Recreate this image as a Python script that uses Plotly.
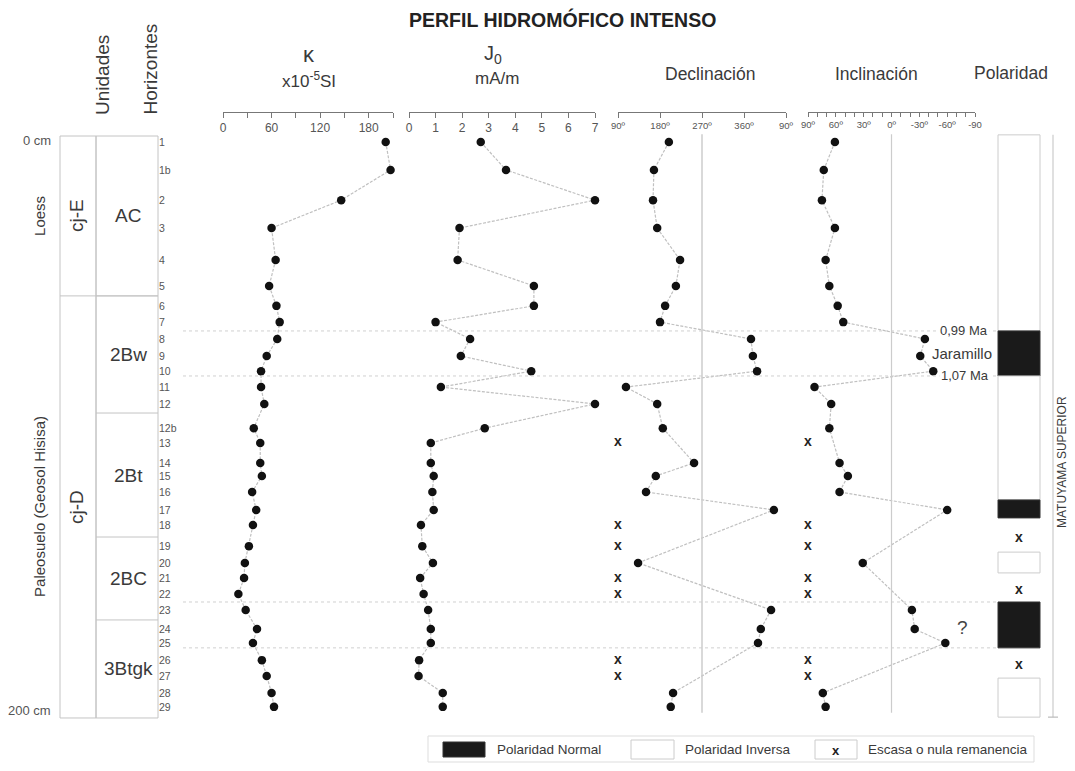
import plotly.graph_objects as go

# ---------------- DATA ----------------
muestras = ['1', '1b', '2', '3', '4', '5', '6', '7', '8', '9', '10', '11', '12', '12b',
            '13', '14', '15', '16', '17', '18', '19', '20', '21', '22', '23', '24', '25',
            '26', '27', '28', '29']
profundidad_cm = [0.7, 10.5, 21.1, 30.9, 42.1, 51.2, 58.2, 63.9, 69.8, 75.8, 81.1, 86.7,
                  92.6, 101.1, 106.3, 113.3, 117.9, 123.5, 129.8, 135.1, 142.5, 148.4,
                  153.7, 159.3, 164.9, 171.6, 176.5, 182.5, 188.1, 194.0, 198.9]
kappa = [201, 207, 146, 60, 65, 57, 66, 70, 67, 54, 47, 47, 51, 38,
         46, 46, 48, 36, 41, 37, 32, 27, 26, 19, 28, 42, 37, 48, 54, 60, 63]
j0 = [2.7, 3.65, 7.0, 1.9, 1.83, 4.7, 4.7, 1.0, 2.3, 1.95, 4.6, 1.2, 7.0, 2.85,
      0.82, 0.82, 0.93, 0.88, 0.93, 0.45, 0.5, 0.9, 0.42, 0.55, 0.72, 0.82, 0.82,
      0.38, 0.36, 1.27, 1.27]
# None = escasa o nula remanencia
declinacion = [199, 167, 165, 174, 223, 214, 191, 180, 15, 19, 28, 107, 174, 186,
               None, 253, 171, 150, 64, None, None, 133, None, None, 58, 36, 30,
               None, None, 208, 203]
inclinacion = [61, 73, 75, 61, 71, 67, 58, 52, -36, -31, -45, 83, 65, 67,
               None, 56, 47, 56, -60, None, None, 31, None, None, -22, -25, -58,
               None, None, 74, 71]

horizontes = ['AC', '2Bw', '2Bt', '2BC', '3Btgk']
horiz_techo = [-1.4, 54.7, 95.8, 139.3, 168.4]
horiz_base = [54.7, 95.8, 139.3, 168.4, 202.8]
unidades = ['cj-E', 'cj-D']
litologia = ['Loess', 'Paleosuelo (Geosol Hisisa)']
unid_techo = [-1.4, 54.7]
unid_base = [54.7, 202.8]

pol_tipo = ['inversa', 'normal', 'inversa', 'normal', 'inversa', 'normal', 'inversa']
pol_techo = [-1.8, 67.0, 82.8, 126.3, 144.6, 162.1, 188.8]
pol_base = [67.0, 82.8, 126.3, 132.6, 151.9, 178.2, 202.5]
pol_sin_dato = [139.3, 157.5, 183.9]
limites = [67.0, 82.8, 162.1, 178.2]

kappa_ticks = list(range(0, 211, 30))
j0_ticks = list(range(0, 8))
dec_ticks = [90, 180, 270, 360, 450]
dec_ticktext = ['90º', '180º', '270º', '360º', '90º']
inc_ticks = list(range(90, -91, -10))

# ---------------- LAYOUT HELPERS ----------------
# the page body has an 8px margin on every side: keep the page inside the window
OFF = 8
W, H = 1075 - OFF, 771 - 2 * OFF
PX_CM = 2.85
Y0 = 140  # window pixel row of 0 cm


def px(x):
    return (x - OFF) / W


def pyp(y):
    return 1 - (y - OFF) / H


FONT = 'Arial, Liberation Sans, sans-serif'
TXT = '#3a3a3a'
LINE = dict(color='#c0c0c0', width=1.2, dash='3px,1.5px')
MARK = dict(color='#111111', size=8.5)

fig = go.Figure()

fig.add_trace(go.Scatter(x=kappa, y=profundidad_cm, mode='lines+markers', line=LINE,
                         marker=MARK, xaxis='x', yaxis='y', cliponaxis=False))
fig.add_trace(go.Scatter(x=j0, y=profundidad_cm, mode='lines+markers', line=LINE,
                         marker=MARK, xaxis='x2', yaxis='y', cliponaxis=False))
dec_x = [d + 360 if d < 90 else d for d in declinacion if d is not None]
dec_y = [p for d, p in zip(declinacion, profundidad_cm) if d is not None]
dec_nd = [p for d, p in zip(declinacion, profundidad_cm) if d is None]
fig.add_trace(go.Scatter(x=dec_x, y=dec_y, mode='lines+markers', line=LINE,
                         marker=MARK, xaxis='x3', yaxis='y', cliponaxis=False))
fig.add_trace(go.Scatter(x=[90] * len(dec_nd), y=dec_nd, mode='text', text=['<b>x</b>'] * len(dec_nd),
                         textfont=dict(size=14, color='#222', family=FONT),
                         xaxis='x3', yaxis='y', cliponaxis=False))
inc_x = [i for i in inclinacion if i is not None]
inc_y = [p for i, p in zip(inclinacion, profundidad_cm) if i is not None]
inc_nd = [p for i, p in zip(inclinacion, profundidad_cm) if i is None]
fig.add_trace(go.Scatter(x=inc_x, y=inc_y, mode='lines+markers', line=LINE,
                         marker=MARK, xaxis='x4', yaxis='y', cliponaxis=False))
fig.add_trace(go.Scatter(x=[90] * len(inc_nd), y=inc_nd, mode='text', text=['<b>x</b>'] * len(inc_nd),
                         textfont=dict(size=14, color='#222', family=FONT),
                         xaxis='x4', yaxis='y', cliponaxis=False))

axis_common = dict(anchor='free', position=pyp(112), side='bottom', showline=True,
                   linecolor='#777', linewidth=1, ticks='outside', ticklen=5,
                   tickcolor='#777', showgrid=False, zeroline=False, automargin=False,
                   tickfont=dict(size=12, color='#555', family=FONT))
deg_font = dict(size=9.5, color='#555', family=FONT)

fig.update_layout(
    width=W, height=H, autosize=False,
    margin=dict(l=0, r=0, t=0, b=0, pad=0),
    paper_bgcolor='white', plot_bgcolor='white',
    showlegend=False,
    font=dict(family=FONT, color=TXT),
    xaxis=dict(domain=[px(223), px(393)], range=[0, 210], tickvals=kappa_ticks,
               ticktext=[str(t) if t % 60 == 0 else '' for t in kappa_ticks], **axis_common),
    xaxis2=dict(domain=[px(409), px(595)], range=[0, 7], tickvals=j0_ticks,
                ticktext=[str(t) for t in j0_ticks], **axis_common),
    xaxis3=dict(domain=[px(618), px(786)], range=[90, 450], tickvals=dec_ticks,
                ticktext=dec_ticktext, **{**axis_common, 'tickfont': deg_font}),
    xaxis4=dict(domain=[px(808), px(975)], range=[90, -90], tickvals=inc_ticks,
                ticktext=[(('%dº' % t) if t != -90 else '-90') if t % 30 == 0 else '' for t in inc_ticks],
                **{**axis_common, 'ticklen': 4, 'tickfont': deg_font}),
    yaxis=dict(domain=[0, 1], range=[(OFF + H - Y0) / PX_CM, (OFF - Y0) / PX_CM],
               anchor='free', position=px(158), side='right', automargin=False,
               tickvals=profundidad_cm, ticktext=muestras, ticks='', showline=False,
               showgrid=False, zeroline=False,
               tickfont=dict(size=10.5, color='#555', family=FONT)),
)

shapes = []
GRAY = '#c4c4c4'
shapes.append(dict(type='rect', xref='paper', yref='y', x0=px(60), x1=px(96),
                   y0=unid_techo[0], y1=unid_base[-1], line=dict(color=GRAY, width=1)))
shapes.append(dict(type='rect', xref='paper', yref='y', x0=px(96), x1=px(158),
                   y0=horiz_techo[0], y1=horiz_base[-1], line=dict(color=GRAY, width=1)))
for b in unid_base[:-1]:
    shapes.append(dict(type='line', xref='paper', yref='y', x0=px(60), x1=px(158),
                       y0=b, y1=b, line=dict(color=GRAY, width=1)))
for b in horiz_base[:-1]:
    shapes.append(dict(type='line', xref='paper', yref='y', x0=px(96), x1=px(158),
                       y0=b, y1=b, line=dict(color=GRAY, width=1)))
for b in limites:
    shapes.append(dict(type='line', xref='paper', yref='y', x0=px(183), x1=px(997),
                       y0=b, y1=b, line=dict(color='#d0d0d0', width=1, dash='dot')))
shapes.append(dict(type='line', xref='x3', yref='y', x0=270, x1=270, y0=-2, y1=201,
                   line=dict(color='#cccccc', width=1.5)))
shapes.append(dict(type='line', xref='x4', yref='y', x0=0, x1=0, y0=-2, y1=201,
                   line=dict(color='#cccccc', width=1.2)))
for t, a, b in zip(pol_tipo, pol_techo, pol_base):
    if t == 'normal':
        shapes.append(dict(type='rect', xref='paper', yref='y', x0=px(998), x1=px(1040),
                           y0=a, y1=b, fillcolor='#1a1a1a', line=dict(color='#333', width=1)))
    else:
        shapes.append(dict(type='rect', xref='paper', yref='y', x0=px(998), x1=px(1040),
                           y0=a, y1=b, fillcolor='white', line=dict(color='#cccccc', width=1)))
shapes.append(dict(type='line', xref='paper', yref='y', x0=px(1053), x1=px(1053),
                   y0=-1.8, y1=202.5, line=dict(color='#cccccc', width=1.2)))
shapes.append(dict(type='line', xref='paper', yref='y', x0=px(1048), x1=px(1058),
                   y0=202.5, y1=202.5, line=dict(color='#bbbbbb', width=1.2)))
# legend
shapes.append(dict(type='rect', xref='paper', yref='paper', x0=px(428), x1=px(1034),
                   y0=pyp(736), y1=pyp(762), line=dict(color='#dddddd', width=1)))
shapes.append(dict(type='rect', xref='paper', yref='paper', x0=px(443), x1=px(485),
                   y0=pyp(742), y1=pyp(757), fillcolor='#1a1a1a', line=dict(color='#333', width=1)))
shapes.append(dict(type='rect', xref='paper', yref='paper', x0=px(631), x1=px(674),
                   y0=pyp(740), y1=pyp(759), fillcolor='white', line=dict(color='#cccccc', width=1)))
shapes.append(dict(type='rect', xref='paper', yref='paper', x0=px(815), x1=px(857),
                   y0=pyp(740), y1=pyp(759), fillcolor='white', line=dict(color='#cccccc', width=1)))
fig.update_layout(shapes=shapes)

ann = []


def A(x, y, text, size=12, color=TXT, xanchor='center', yanchor='middle', angle=0,
      yref='paper', bg=None):
    d = dict(x=px(x), y=(pyp(y) if yref == 'paper' else y), xref='paper', yref=yref,
             text=text, showarrow=False, xanchor=xanchor, yanchor=yanchor,
             textangle=angle, font=dict(size=size, color=color, family=FONT))
    if bg:
        d['bgcolor'] = bg
    ann.append(d)


A(562, 19, '<b>PERFIL HIDROMÓFICO INTENSO</b>', size=19.5, color='#222')
A(102, 117, 'Unidades', size=19, angle=-90, yanchor='bottom')
A(150, 117, 'Horizontes', size=19, angle=-90, yanchor='bottom')
A(309, 55, 'κ', size=22)
A(309, 80, 'x10<sup>-5</sup>SI', size=17)
A(493, 54, 'J<sub>0</sub>', size=20)
A(497, 79, 'mA/m', size=17)
A(710, 74, 'Declinación', size=17.5)
A(876, 74, 'Inclinación', size=17.5)
A(1011, 73, 'Polaridad', size=17.5)
A(53, 140, '0 cm', size=13, xanchor='right', color='#555')
A(53, 710, '200 cm', size=13, xanchor='right', color='#555')

for lab, u, a, b in zip(litologia, unidades, unid_techo, unid_base):
    mid = (a + b) / 2
    A(40, mid, lab, size=15, angle=-90, yref='y')
    A(77, mid, u, size=19, angle=-90, yref='y')
for h, a, b in zip(horizontes, horiz_techo, horiz_base):
    A(128, (a + b) / 2, h, size=19, yref='y')

A(990, limites[0], '0,99 Ma', size=13, xanchor='right', yref='y', bg='white')
A(994, (limites[0] + limites[1]) / 2, 'Jaramillo', size=15, xanchor='right', yref='y', bg='white')
A(991, limites[1], '1,07 Ma', size=13, xanchor='right', yref='y', bg='white')
A(962, 627, '?', size=19, color='#444')
for p in pol_sin_dato:
    A(1019, p, '<b>x</b>', size=14, color='#222', yref='y')
A(1062, 462, 'MATUYAMA SUPERIOR', size=12, angle=-90)

A(495, 749, 'Polaridad Normal', size=13.5, xanchor='left')
A(683, 749, 'Polaridad Inversa', size=13.5, xanchor='left')
A(836, 750, '<b>x</b>', size=13, color='#222')
A(866, 749, 'Escasa o nula remanencia', size=13.5, xanchor='left')

fig.update_layout(annotations=ann)
fig.write_html('out.html')
